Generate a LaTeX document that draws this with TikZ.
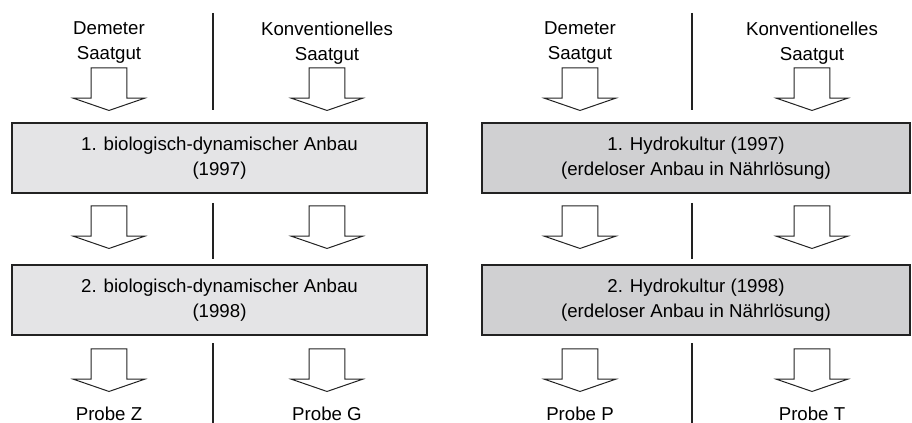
\documentclass[tikz,border=0pt]{standalone}
\usepackage{fontspec}
\setmainfont{Liberation Sans}
\usepackage{tikz}
\usetikzlibrary{shapes.arrows}
\definecolor{biogray}{RGB}{228,228,230}
\definecolor{hydrogray}{RGB}{208,208,210}
\definecolor{linegray}{RGB}{34,34,34}
\tikzstyle{bio}=[rectangle,line width=1.5pt,draw=linegray,fill=biogray,
minimum width=311.25pt,minimum height=52.5pt,align=center]
\tikzstyle{hydro}=[rectangle,line width=1.5pt,draw=linegray,fill=hydrogray,
minimum width=321pt,minimum height=52.5pt,align=center]
\tikzstyle{seed}=[align=center,inner sep=0pt]
\tikzstyle{probe}=[anchor=base,inner sep=0pt]
\tikzstyle{fat}=[single arrow,rotate=-90,anchor=tip,draw=linegray,line width=0.75pt,
fill=white,inner xsep=0pt,inner ysep=13.1pt,single arrow head extend=13.15pt,
single arrow tip angle=142,minimum height=31.9pt,minimum width=0pt]
\tikzstyle{divider}=[line width=1pt,draw=linegray]

\begin{document}
\begin{tikzpicture}[x=0.75pt,y=-0.75pt,font=\fontsize{14}{18.75}\selectfont]
            \useasboundingbox (0,0) rectangle (912,423);

            % BIO-DYN PART

            \node[seed] (d1) at (109,43) {Demeter\\Saatgut};
            \node[seed] (k1) at (327,43) {Konventionelles\\Saatgut};
            \node[fat] (a1) at (109,111) {};
            \node[fat] (a2) at (327,111) {};
            \node[bio] (b1) at (219.5,158) {1. biologisch-dynamischer Anbau\\(1997)};
            \node[fat] (a3) at (109,249) {};
            \node[fat] (a4) at (327,249) {};
            \node[bio] (b2) at (219.5,300) {2. biologisch-dynamischer Anbau\\(1998)};
            \node[fat] (a5) at (109,392) {};
            \node[fat] (a6) at (327,392) {};
            \node[probe] (pz) at (109,420) {Probe Z};
            \node[probe] (pg) at (327,420) {Probe G};

            \draw[divider] (213,13) -- (213,110);
            \draw[divider] (213,203) -- (213,259);
            \draw[divider] (213,343) -- (213,423);

            % HYDRO PART

            \node[seed] (d2) at (580,43) {Demeter\\Saatgut};
            \node[seed] (k2) at (812,43) {Konventionelles\\Saatgut};
            \node[fat] (a7) at (580,111) {};
            \node[fat] (a8) at (812,111) {};
            \node[hydro] (h1) at (696,158) {1. Hydrokultur (1997)\\(erdeloser Anbau in Nährlösung)};
            \node[fat] (a9) at (580,249) {};
            \node[fat] (a10) at (812,249) {};
            \node[hydro] (h2) at (696,300) {2. Hydrokultur (1998)\\(erdeloser Anbau in Nährlösung)};
            \node[fat] (a11) at (580,392) {};
            \node[fat] (a12) at (812,392) {};
            \node[probe] (pp) at (580,420) {Probe P};
            \node[probe] (pt) at (812,420) {Probe T};

            \draw[divider] (692,13) -- (692,110);
            \draw[divider] (692,203) -- (692,259);
            \draw[divider] (692,343) -- (692,423);

\end{tikzpicture}
\end{document}
